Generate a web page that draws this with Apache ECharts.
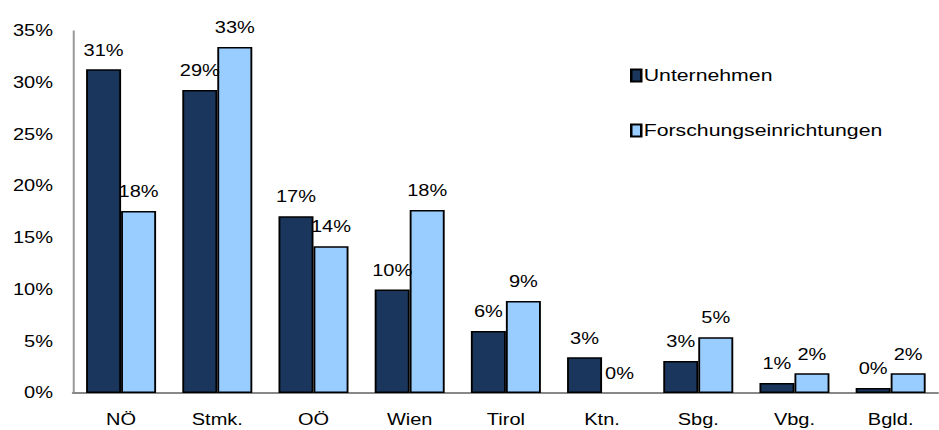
<!DOCTYPE html>
<html><head><meta charset="utf-8">
<script src="https://cdn.jsdelivr.net/npm/echarts@6/dist/echarts.min.js"></script>
<style>
html,body{margin:0;padding:0;background:#fff;overflow:hidden}
#wrap{width:939px;height:430px;overflow:hidden}
#c{width:751px;height:430px;transform:scaleX(1.25);transform-origin:0 0}
</style>
</head><body><div id="wrap"><div id="c"></div></div>
<script>
const categories = ['NÖ','Stmk.','OÖ','Wien','Tirol','Ktn.','Sbg.','Vbg.','Bgld.'];
const unternehmen = [31.3, 29.3, 17.1, 10.0, 6.0, 3.45, 3.1, 0.97, 0.48];
const forschung = [17.6, 33.45, 14.2, 17.7, 8.9, 0, 5.4, 1.9, 1.9];
const seriesNames = ['Unternehmen', 'Forschungseinrichtungen'];
const yTicks = {min: 0, max: 35, interval: 5};

const font = 'Liberation Sans, Arial, sans-serif';
const chart = echarts.init(document.getElementById('c'), null, {renderer: 'svg'});
const lbl = {show: true, position: 'top', distance: 11, color: '#000', fontSize: 16, fontFamily: font,
  formatter: p => Math.round(p.value) + '%'};
// zero-height bars have no visible outline in the reference
const toData = arr => arr.map(v => v === 0 ? {value: v, itemStyle: {borderWidth: 0}} : v);
chart.setOption({
  animation: false,
  grid: {left: 58.4, top: 31, width: 702, height: 362, containLabel: false},
  legend: {
    orient: 'vertical', left: 499, top: 62, itemWidth: 8, itemHeight: 12, itemGap: 38,
    icon: 'rect',
    textStyle: {fontSize: 17, fontFamily: font, color: '#000', padding: [0, 0, 0, -3]},
    data: seriesNames
  },
  xAxis: {
    type: 'category', data: categories,
    axisLine: {lineStyle: {color: '#888', width: 2}},
    axisTick: {show: false},
    axisLabel: {color: '#000', fontSize: 16, fontFamily: font, margin: 19}
  },
  yAxis: {
    type: 'value', min: yTicks.min, max: yTicks.max, interval: yTicks.interval,
    axisLine: {show: true, lineStyle: {color: '#999', width: 1.6}},
    axisTick: {show: false},
    splitLine: {show: false},
    axisLabel: {color: '#000', fontSize: 16, fontFamily: font, margin: 16, formatter: v => v + '%'}
  },
  series: [
    {name: seriesNames[0], type: 'bar', data: toData(unternehmen), barWidth: 28, barGap: '0%',
     itemStyle: {color: '#1b365d', borderColor: '#000', borderWidth: 1.5}, label: lbl},
    {name: seriesNames[1], type: 'bar', data: toData(forschung), barWidth: 28,
     itemStyle: {color: '#99ccff', borderColor: '#000', borderWidth: 1.5}, label: lbl}
  ]
});
</script></body></html>
